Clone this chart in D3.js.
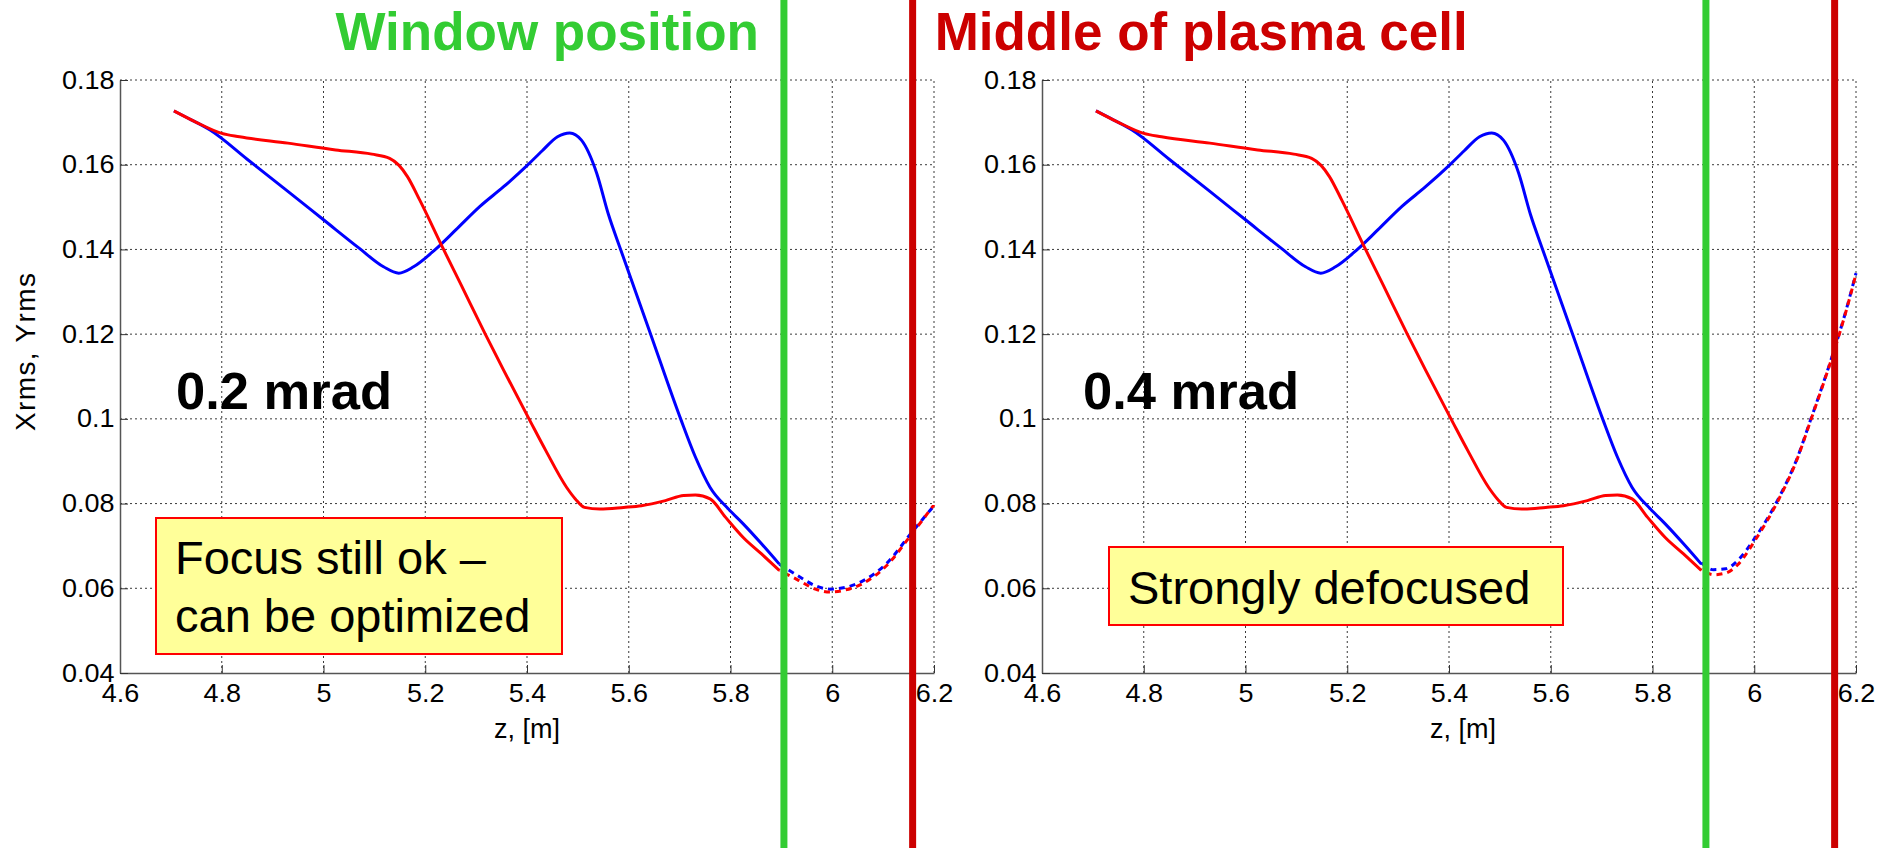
<!DOCTYPE html>
<html>
<head>
<meta charset="utf-8">
<script src="https://cdn.jsdelivr.net/npm/d3@7"></script>
<style>
  html, body { margin: 0; padding: 0; background: #ffffff; }
  svg { display: block; }
  text { font-family: "Liberation Sans", Arial, sans-serif; }
</style>
</head>
<body>
<svg id="chart" width="1879" height="848"></svg>
<script>
// ---------------- data ----------------
const xTicks = [4.6, 4.8, 5.0, 5.2, 5.4, 5.6, 5.8, 6.0, 6.2];
const xTickLabels = ["4.6", "4.8", "5", "5.2", "5.4", "5.6", "5.8", "6", "6.2"];
const yTicks = [0.04, 0.06, 0.08, 0.10, 0.12, 0.14, 0.16, 0.18];
const yTickLabels = ["0.04", "0.06", "0.08", "0.1", "0.12", "0.14", "0.16", "0.18"];

// solid part (same in both panels)
const blueSolidZ = [4.706, 4.74, 4.777, 4.85, 4.93, 5.0, 5.07, 5.118, 5.148, 5.177, 5.22, 5.26, 5.307, 5.354, 5.401, 5.43, 5.46, 5.484, 5.507, 5.537, 5.56, 5.584, 5.643, 5.702, 5.731, 5.76, 5.796, 5.825, 5.861, 5.896];
const blueSolidV = [0.1727, 0.1706, 0.1682, 0.1613, 0.1537, 0.1470, 0.1403, 0.1359, 0.1344, 0.1359, 0.1400, 0.1446, 0.1501, 0.1548, 0.1599, 0.1633, 0.1666, 0.1675, 0.1658, 0.1580, 0.1483, 0.1400, 0.1200, 0.1000, 0.0910, 0.0838, 0.0787, 0.0752, 0.0705, 0.0657];
const redSolidZ = [4.706, 4.75, 4.80, 4.835, 4.93, 5.024, 5.095, 5.13, 5.148, 5.165, 5.189, 5.236, 5.271, 5.318, 5.354, 5.407, 5.437, 5.478, 5.495, 5.513, 5.543, 5.59, 5.625, 5.672, 5.708, 5.731, 5.76, 5.79, 5.825, 5.861, 5.896];
const redSolidV = [0.1727, 0.1700, 0.1674, 0.1666, 0.1651, 0.1635, 0.1625, 0.1615, 0.1599, 0.1572, 0.1517, 0.1400, 0.1315, 0.1200, 0.1115, 0.0993, 0.0925, 0.0838, 0.0811, 0.0791, 0.0787, 0.0791, 0.0795, 0.0807, 0.0819, 0.0820, 0.0811, 0.0768, 0.0720, 0.0681, 0.0642];

// dashed part, 0.2 mrad
const leftDashZ = [5.896, 5.932, 5.967, 5.996, 6.026, 6.061, 6.108, 6.155, 6.2];
const leftBlueDashV = [0.0657, 0.0630, 0.0606, 0.0598, 0.0602, 0.0618, 0.0660, 0.0730, 0.0795];
const leftRedDashV = [0.0642, 0.0620, 0.0598, 0.0591, 0.0596, 0.0612, 0.0655, 0.0726, 0.0797];

// dashed part, 0.4 mrad
const rightDashZ = [5.896, 5.92, 5.944, 5.967, 6.002, 6.049, 6.085, 6.108, 6.155, 6.179, 6.2];
const rightBlueDashV = [0.0660, 0.0644, 0.0646, 0.0665, 0.0720, 0.0815, 0.0909, 0.0988, 0.1155, 0.1250, 0.1344];
const rightRedDashV = [0.0645, 0.0632, 0.0636, 0.0655, 0.0714, 0.0812, 0.0907, 0.0986, 0.1153, 0.1248, 0.1342];

// vertical markers: window position, middle of plasma cell
const markerZ = [5.905, 6.158];
const markerNames = ["Window position", "Middle of plasma cell"];

// ---------------- drawing ----------------
const svg = d3.select("#chart");
svg.append("rect").attr("width", 1879).attr("height", 848).attr("fill", "#ffffff");

const H = 848;
const plotTop = 80, plotBottom = 673, plotWidth = 814;
const yScale = d3.scaleLinear().domain([0.04, 0.18]).range([plotBottom, plotTop]);

function zip(zs, vs) { return zs.map((z, i) => [z, vs[i]]); }

const panels = [
  { ox: 120, blueDash: zip(leftDashZ, leftBlueDashV), redDash: zip(leftDashZ, leftRedDashV),
    mrad: "0.2 mrad", mradX: 56, ylabel: true, xlabelShift: 0,
    box: { x: 36, y: 518, w: 406, h: 136 }, boxLines: ["Focus still ok \u2013", "can be optimized"], boxBase: [574, 632] },
  { ox: 1042, blueDash: zip(rightDashZ, rightBlueDashV), redDash: zip(rightDashZ, rightRedDashV),
    mrad: "0.4 mrad", mradX: 41, ylabel: false, xlabelShift: 14,
    box: { x: 67, y: 547, w: 454, h: 78 }, boxLines: ["Strongly defocused"], boxBase: [604] }
];

const xScales = [];

panels.forEach(p => {
  const x = d3.scaleLinear().domain([4.6, 6.2]).range([p.ox, p.ox + plotWidth]);
  const g = svg.append("g");

  // grid
  g.selectAll(".vg").data(xTicks.slice(1)).enter().append("line")
    .attr("x1", d => x(d)).attr("x2", d => x(d))
    .attr("y1", yScale(0.04)).attr("y2", yScale(0.18))
    .attr("stroke", "#3a3a3a").attr("stroke-width", 1).attr("stroke-dasharray", "2,3");
  g.selectAll(".hg").data(yTicks.slice(1)).enter().append("line")
    .attr("x1", x(4.6)).attr("x2", x(6.2))
    .attr("y1", d => yScale(d)).attr("y2", d => yScale(d))
    .attr("stroke", "#3a3a3a").attr("stroke-width", 1).attr("stroke-dasharray", "2,3");

  // axes
  const xAxis = d3.axisBottom(x).tickValues(xTicks).tickFormat((d, i) => xTickLabels[i])
    .tickSizeInner(-8).tickSizeOuter(0).tickPadding(11);
  const gx = g.append("g").attr("transform", `translate(0,${plotBottom})`).call(xAxis);
  const yAxis = d3.axisLeft(yScale).tickValues(yTicks).tickFormat((d, i) => yTickLabels[i])
    .tickSizeInner(-8).tickSizeOuter(0).tickPadding(5);
  const gy = g.append("g").attr("transform", `translate(${p.ox},0)`).call(yAxis);
  [gx, gy].forEach(a => {
    a.select(".domain").attr("stroke", "#555").attr("stroke-width", 1.5);
    a.selectAll(".tick line").attr("stroke", "#333").attr("stroke-width", 1);
    a.selectAll(".tick text").attr("fill", "#000").attr("font-size", 25)
      .attr("font-family", "Liberation Sans, Arial, sans-serif")
      .attr("transform", "scale(1.08,1)");
  });

  // axis labels
  g.append("text").attr("x", (x(4.6) + x(6.2)) / 2 + p.xlabelShift).attr("y", 738)
    .attr("text-anchor", "middle").attr("font-size", 27).attr("fill", "#000")
    .text("z, [m]");
  if (p.ylabel) {
    g.append("text").attr("transform", `translate(35,352) rotate(-90)`)
      .attr("text-anchor", "middle").attr("font-size", 28).attr("fill", "#000")
      .attr("textLength", 158).attr("lengthAdjust", "spacing")
      .text("Xrms, Yrms");
  }

  // curves
  const line = d3.line().x(d => x(d[0])).y(d => yScale(d[1])).curve(d3.curveMonotoneX);
  g.append("path").datum(zip(blueSolidZ, blueSolidV)).attr("d", line)
    .attr("fill", "none").attr("stroke", "#0000ff").attr("stroke-width", 3).attr("stroke-linejoin", "round");
  g.append("path").datum(zip(redSolidZ, redSolidV)).attr("d", line)
    .attr("fill", "none").attr("stroke", "#ff0000").attr("stroke-width", 3).attr("stroke-linejoin", "round");
  g.append("path").datum(p.blueDash).attr("d", line)
    .attr("fill", "none").attr("stroke", "#0000ff").attr("stroke-width", 3)
    .attr("stroke-dasharray", "6,5");
  g.append("path").datum(p.redDash).attr("d", line)
    .attr("fill", "none").attr("stroke", "#ff0000").attr("stroke-width", 3)
    .attr("stroke-dasharray", "6,5").attr("stroke-dashoffset", 5.5);

  // mrad label
  g.append("text").attr("x", p.ox + p.mradX).attr("y", 409)
    .attr("font-size", 52.5).attr("font-weight", "bold").attr("fill", "#000")
    .text(p.mrad);

  // annotation box
  const bx = p.ox + p.box.x;
  g.append("rect").attr("x", bx).attr("y", p.box.y).attr("width", p.box.w).attr("height", p.box.h)
    .attr("fill", "#ffff99").attr("stroke", "#ff0000").attr("stroke-width", 2);
  p.boxLines.forEach((t, i) => {
    g.append("text").attr("x", bx + 19).attr("y", p.boxBase[i])
      .attr("font-size", 47).attr("fill", "#000").text(t);
  });

  xScales.push(x);
});

// vertical markers (drawn on top)
xScales.forEach(x => {
  svg.append("line").attr("x1", x(markerZ[0])).attr("x2", x(markerZ[0]))
    .attr("y1", 0).attr("y2", H).attr("stroke", "#33cc33").attr("stroke-width", 7);
  svg.append("line").attr("x1", x(markerZ[1])).attr("x2", x(markerZ[1]))
    .attr("y1", 0).attr("y2", H).attr("stroke", "#cc0000").attr("stroke-width", 7);
});

// titles
const xl = xScales[0];
svg.append("text").attr("x", xl(markerZ[0]) - 25).attr("y", 50)
  .attr("text-anchor", "end").attr("font-size", 53).attr("font-weight", "bold")
  .attr("fill", "#33cc33").text(markerNames[0]);
svg.append("text").attr("x", xl(markerZ[1]) + 22).attr("y", 50)
  .attr("text-anchor", "start").attr("font-size", 53).attr("font-weight", "bold")
  .attr("fill", "#cc0000").text(markerNames[1]);
</script>
</body>
</html>
